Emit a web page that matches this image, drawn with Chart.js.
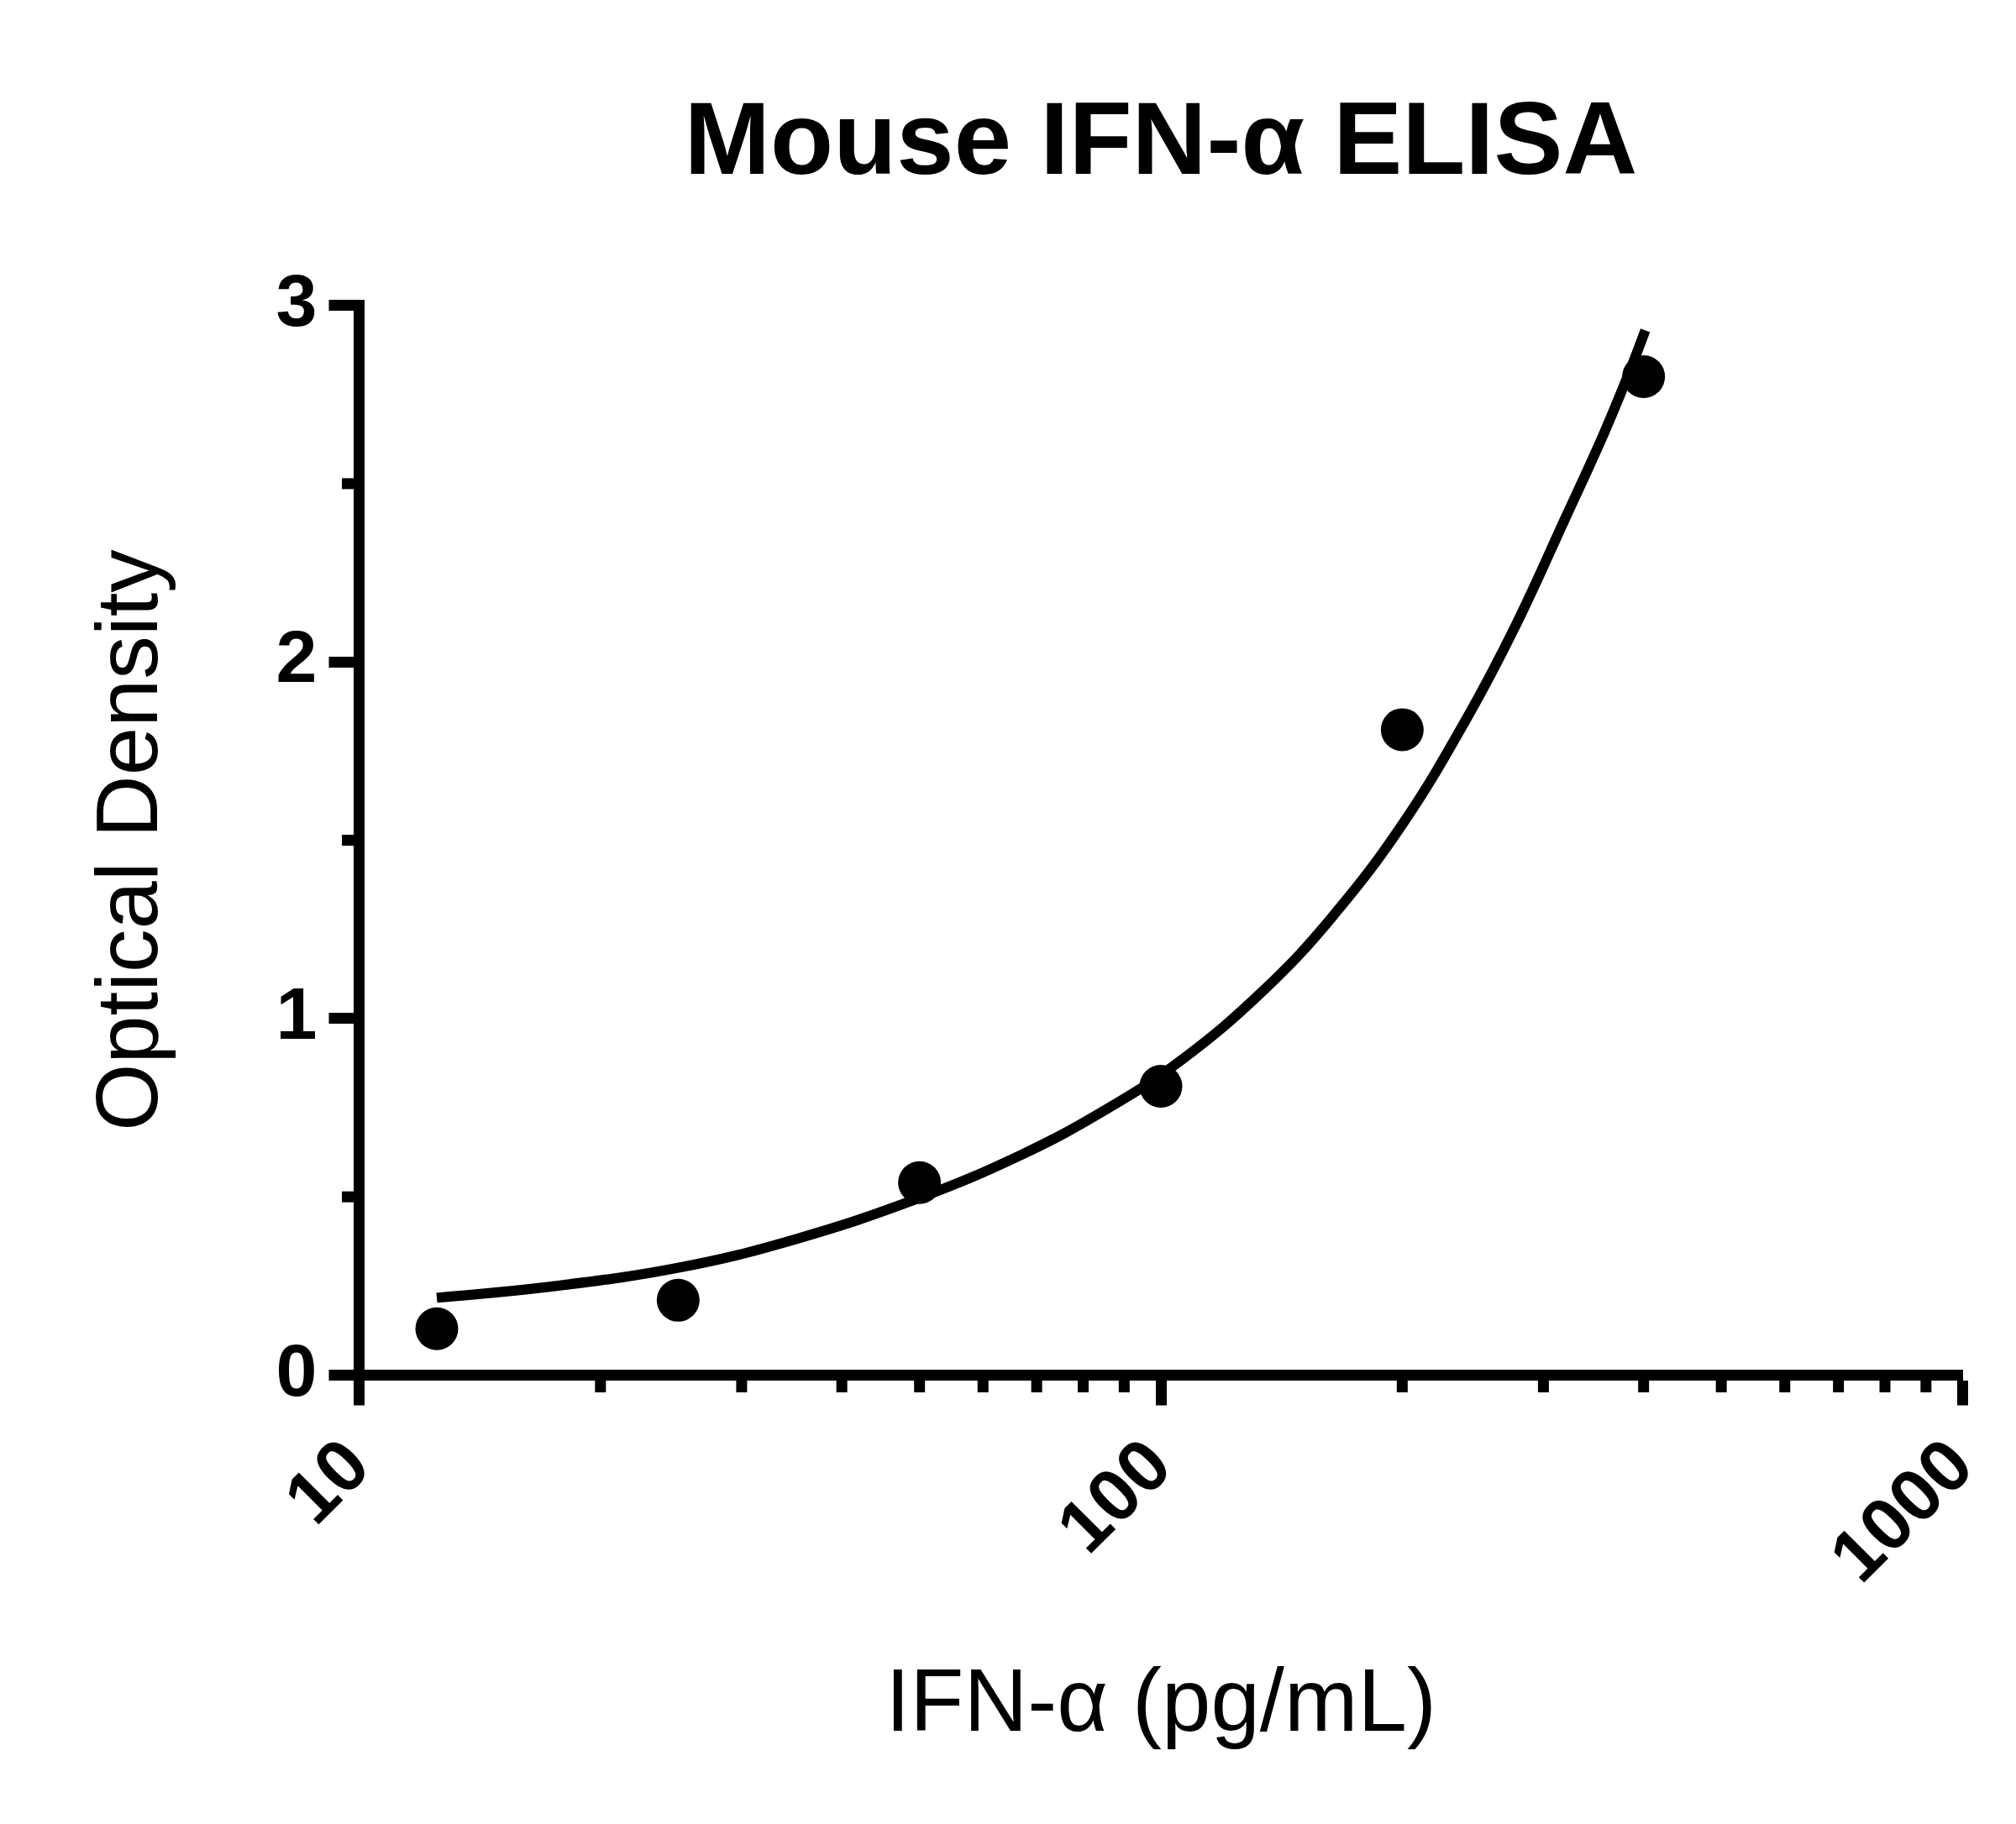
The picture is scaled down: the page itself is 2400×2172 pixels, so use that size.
<!DOCTYPE html>
<html>
<head>
<meta charset="utf-8">
<script src="https://cdn.jsdelivr.net/npm/chart.js@4"></script>
<style>
  html, body { margin: 0; padding: 0; background: #fff; }
  #wrap { width: 2400px; height: 2172px; position: relative; }
</style>
</head>
<body>
<div id="wrap"><canvas id="chart"></canvas></div>
<script>
// standard points (pg/mL vs OD)
const concentrations = [12.5, 25, 50, 100, 200, 400];
const opticalDensity = [0.13, 0.21, 0.54, 0.81, 1.81, 2.80];

// fitted curve
const curveX = [12.5, 17, 25, 35, 50, 67, 85, 106, 134, 163, 200, 241, 277, 319, 356, 384, 402];
const curveY = [0.217, 0.246, 0.301, 0.381, 0.497, 0.618, 0.742, 0.883, 1.077, 1.281, 1.544, 1.844, 2.102, 2.40, 2.635, 2.813, 2.93];

// axis ticks
const xMajorTicks = [10, 100, 1000];
const xMinorTicks = [20, 30, 40, 50, 60, 70, 80, 90, 200, 300, 400, 500, 600, 700, 800, 900];
const yMajorTicks = [0, 1, 2, 3];
const yMinorTicks = [0.5, 1.5, 2.5];

const FONT = '"Liberation Sans", Arial, Helvetica, sans-serif';

const points = concentrations.map((c, i) => ({x: c, y: opticalDensity[i]}));
const curve = curveX.map((c, i) => ({x: c, y: curveY[i]}));

// short minor ticks, drawn with the chart's own scales
const minorTicks = {
    id: 'minorTicks',
    afterDraw(chart) {
        const ctx = chart.ctx;
        const xs = chart.scales.x, ys = chart.scales.y;
        const len = 20.5;
        ctx.save();
        ctx.strokeStyle = '#000';
        ctx.lineWidth = 13;
        ctx.lineCap = 'butt';
        for (const v of xMinorTicks) {
            const px = xs.getPixelForValue(v);
            ctx.beginPath();
            ctx.moveTo(px, xs.top);
            ctx.lineTo(px, xs.top + len);
            ctx.stroke();
        }
        for (const v of yMinorTicks) {
            const py = ys.getPixelForValue(v);
            ctx.beginPath();
            ctx.moveTo(ys.right, py);
            ctx.lineTo(ys.right - len, py);
            ctx.stroke();
        }
        ctx.restore();
    }
};

const data = {
    datasets: [
        {
            label: 'Standards',
            data: points,
            showLine: false,
            pointRadius: 25.5,
            pointHoverRadius: 25.5,
            pointBackgroundColor: '#000',
            pointBorderWidth: 0,
            borderColor: '#000'
        },
        {
            label: 'Fit',
            data: curve,
            showLine: true,
            pointRadius: 0,
            borderColor: '#000',
            borderWidth: 12,
            tension: 0.4,
            fill: false
        }
    ]
};

const config = {
    type: 'scatter',
    data: data,
    plugins: [minorTicks],
    options: {
        responsive: true,
        maintainAspectRatio: false,
        devicePixelRatio: 1,
        animation: false,
        layout: { padding: { left: 0, right: 63.5, top: 0, bottom: 0 } },
        plugins: {
            legend: { display: false },
            tooltip: { enabled: false },
            title: {
                display: true,
                text: 'Mouse IFN-α ELISA',
                fullSize: false,
                color: '#000',
                font: { family: FONT, size: 123, weight: 'bold', lineHeight: 1.2 },
                padding: { top: 99, bottom: 117 }
            }
        },
        scales: {
            x: {
                type: 'logarithmic',
                min: 10,
                max: 1000,
                afterBuildTicks: (scale) => { scale.ticks = xMajorTicks.map(v => ({value: v})); },
                afterFit: (scale) => {
                    scale.height = 534.5;
                    scale.paddingLeft = 0;
                    scale.paddingRight = 0;
                },
                border: { display: true, color: '#000', width: 13 },
                grid: { display: true, drawOnChartArea: false, drawTicks: true, tickLength: 36, tickWidth: 13, tickColor: '#000', color: '#000' },
                ticks: {
                    autoSkip: false,
                    minRotation: 45,
                    maxRotation: 45,
                    padding: 22,
                    color: '#000',
                    font: { family: FONT, size: 88, weight: 'bold' },
                    callback: (v) => String(v)
                },
                title: {
                    display: true,
                    text: 'IFN-α (pg/mL)',
                    color: '#000',
                    font: { family: FONT, size: 105, weight: 'normal', lineHeight: 1.2 },
                    padding: { top: 0, bottom: 77 }
                }
            },
            y: {
                type: 'linear',
                min: 0,
                max: 3,
                afterBuildTicks: (scale) => { scale.ticks = yMajorTicks.map(v => ({value: v})); },
                afterFit: (scale) => { scale.width = 427.5; },
                border: { display: true, color: '#000', width: 13 },
                grid: { display: true, drawOnChartArea: false, drawTicks: true, tickLength: 36, tickWidth: 13, tickColor: '#000', color: '#000' },
                ticks: {
                    padding: 14,
                    color: '#000',
                    font: { family: FONT, size: 88, weight: 'bold' }
                },
                title: {
                    display: true,
                    text: 'Optical Density',
                    color: '#000',
                    font: { family: FONT, size: 103, weight: 'normal', lineHeight: 1.2 },
                    padding: { top: 97, bottom: 0 }
                }
            }
        }
    }
};

new Chart(document.getElementById('chart').getContext('2d'), config);
</script>
</body>
</html>
